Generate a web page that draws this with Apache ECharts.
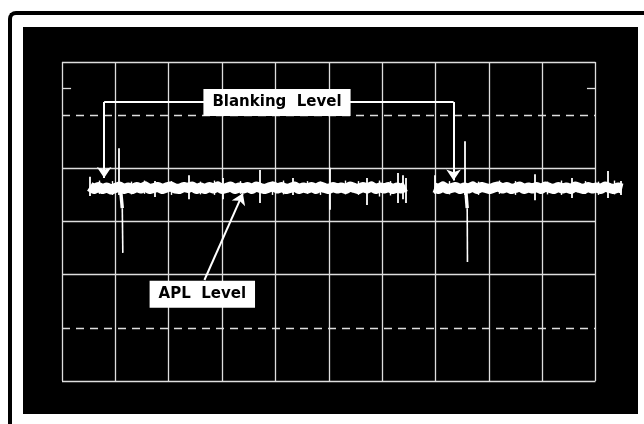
<!DOCTYPE html>
<html><head><meta charset="utf-8">
<script src="https://cdn.jsdelivr.net/npm/echarts@6/dist/echarts.min.js"></script>
<style>
html,body{margin:0;padding:0;background:#fff;overflow:hidden;width:644px;height:424px;}
#frame{position:absolute;left:7.5px;top:11px;width:700px;height:500px;border-left:4.5px solid #000;border-top:4px solid #000;border-top-left-radius:8px;}
#c{position:absolute;left:23px;top:27px;width:615px;height:387px;background:#000;}
</style>
</head><body><div id="frame"></div><div id="c"></div>
<script>
// Horizontal divisions (x) and vertical divisions (y) of the graticule
const xDivisions = [0, 1, 2, 3, 4, 5, 6, 7, 8, 9, 10];
const yDivisions = [0, 1, 2, 3, 4, 5, 6];
const dashedLevels = [1, 5];

// Trace band (x from start, step 0.08 div)
const traceLeftStart = 0.52;
const traceRightStart = 6.98;
const traceStep = 0.08;
const traceLeftY = [
  3.66,3.61,3.65,3.61,3.64,3.60,3.63,3.66,3.61,3.64,
  3.61,3.65,3.62,3.66,3.61,3.63,3.65,3.61,3.64,3.66,
  3.62,3.61,3.65,3.63,3.66,3.61,3.64,3.61,3.65,3.62,
  3.66,3.61,3.63,3.66,3.61,3.64,3.62,3.65,3.61,3.66,
  3.63,3.61,3.64,3.66,3.62,3.65,3.61,3.63,3.66,3.61,
  3.64,3.62,3.65,3.61,3.66,3.63,3.61,3.65,3.62,3.64,
  3.61,3.66,3.63,3.61,3.65,3.62,3.66,3.61,3.64,3.62,
  3.65,3.61,3.64,3.62,3.66
];
const traceRightY = [
  3.64,3.61,3.66,3.61,3.63,3.65,3.61,3.64,3.62,3.66,
  3.61,3.65,3.63,3.61,3.64,3.66,3.62,3.65,3.61,3.63,
  3.66,3.61,3.64,3.62,3.65,3.61,3.66,3.63,3.61,3.65,
  3.62,3.64,3.61,3.66,3.63,3.61,3.65,3.62,3.64,3.61,
  3.66,3.63,3.61,3.64,3.62
];
// Small spikes: [x, top, bottom]
const spikes = [
  [0.52,3.84,3.48],[1.07,4.38,3.50],[1.74,3.76,3.46],[2.37,3.87,3.42],
  [3.02,3.82,3.42],[3.70,3.97,3.35],[4.33,3.82,3.50],[5.02,4.01,3.22],
  [5.71,3.82,3.31],[6.30,3.91,3.35],[6.39,3.87,3.42],[6.45,3.82,3.35],
  [6.99,3.87,3.52],[7.54,4.51,3.50],[8.87,3.89,3.40],[9.55,3.82,3.44],
  [10.23,3.95,3.44],[10.48,3.76,3.50]
];
// Grass on the band edges: [x, top, bottom]
const grass = [
  [0.70,3.77,3.52],[0.95,3.76,3.50],[1.30,3.75,3.51],[1.55,3.77,3.52],[2.05,3.76,3.50],
  [2.60,3.75,3.51],[2.85,3.77,3.50],[3.35,3.76,3.52],[3.95,3.75,3.50],[4.15,3.77,3.51],
  [4.60,3.76,3.52],[4.85,3.75,3.50],[5.30,3.77,3.51],[5.55,3.76,3.50],[5.95,3.77,3.47],
  [6.15,3.76,3.49],[7.25,3.76,3.51],[7.80,3.75,3.50],[8.20,3.77,3.52],[8.50,3.76,3.50],
  [9.10,3.75,3.51],[9.35,3.77,3.50],[9.80,3.76,3.52],[10.05,3.75,3.50],[10.35,3.77,3.51]
];
// Sync pulses: [xStart, yStart, xKnee, yKnee, xEnd, yEnd]
const syncPulses = [
  [1.10,3.58,1.13,3.25,1.14,2.41],
  [7.57,3.58,7.595,3.25,7.60,2.24]
];
// Annotations
const labelTexts = ['Blanking  Level', 'APL  Level'];
const labelPoints = [[4.03,5.24],[2.63,1.63]];
const blankingArrows = [[[0.79,5.25],[0.79,3.82]], [[7.34,5.25],[7.34,3.77]]];
const blankingBar = [[0.79,5.25],[7.34,5.25]];
const aplArrow = [[2.67,1.90],[3.39,3.53]];
const edgeStubs = [[[0,5.5],[0.17,5.5]], [[9.84,5.5],[10,5.5]]];

const W = '#ffffff', G = '#dedede', T = 'rgba(0,0,0,0)';
const chart = echarts.init(document.getElementById('c'));
const leftData = traceLeftY.map((y, i) => [traceLeftStart + i * traceStep, y]);
const rightData = traceRightY.map((y, i) => [traceRightStart + i * traceStep, y]);
const splitColors = yDivisions.map(v => dashedLevels.includes(v) ? T : G);
const L = (extra) => Object.assign({ type: 'lines', coordinateSystem: 'cartesian2d', silent: true, clip: false, animation: false }, extra);

chart.setOption({
  backgroundColor: '#000',
  animation: false,
  grid: { left: 39, top: 35, width: 533.5, height: 319 },
  xAxis: { type: 'value', min: xDivisions[0], max: xDivisions[xDivisions.length-1], interval: 1,
    axisLine: {show:false}, axisTick: {show:false}, axisLabel: {show:false},
    splitLine: { show: true, lineStyle: { color: G, width: 1.3 } } },
  yAxis: { type: 'value', min: yDivisions[0], max: yDivisions[yDivisions.length-1], interval: 1,
    axisLine: {show:false}, axisTick: {show:false}, axisLabel: {show:false},
    splitLine: { show: true, lineStyle: { color: splitColors, width: 1.3 } } },
  series: [
    L({ z: 1, lineStyle: { color: G, width: 1.3, type: [8, 6], opacity: 1 },
      data: dashedLevels.map(v => ({ coords: [[0, v], [10, v]] })) }),
    L({ z: 1, lineStyle: { color: G, width: 1.3, opacity: 1 },
      data: edgeStubs.map(c => ({ coords: c })) }),
    L({ z: 3, polyline: true, lineStyle: { color: W, width: 10, opacity: 1, join: 'round' },
      data: [{ coords: leftData }, { coords: rightData }] }),
    L({ z: 4, lineStyle: { color: W, width: 1.8, opacity: 1 },
      data: spikes.map(s => ({ coords: [[s[0], s[1]], [s[0], s[2]]] })) }),
    L({ z: 4, lineStyle: { color: W, width: 1.4, opacity: 1 },
      data: grass.map(s => ({ coords: [[s[0], s[1]], [s[0], s[2]]] })) }),
    L({ z: 4, lineStyle: { color: W, width: 1.6, opacity: 1 },
      data: syncPulses.flatMap(p => [
        { coords: [[p[0], p[1]], [p[2], p[3]]], lineStyle: { width: 3.4 } },
        { coords: [[p[2], p[3]], [p[4], p[5]]] }
      ]) }),
    L({ z: 5, lineStyle: { color: W, width: 2, opacity: 1 },
      data: [{ coords: blankingBar }] }),
    L({ z: 5, symbol: ['none', 'arrow'], symbolSize: [0, 11],
      lineStyle: { color: W, width: 2, opacity: 1 },
      data: blankingArrows.concat([aplArrow]).map(c => ({ coords: c })) }),
    { type: 'scatter', silent: true, z: 10, symbolSize: 0, clip: false,
      itemStyle: { opacity: 1 },
      data: labelTexts.map((t, i) => ({ name: t, value: labelPoints[i] })),
      label: { show: true, position: 'inside', formatter: '{b}', color: '#000',
        backgroundColor: '#fff', padding: [5, 9, 5, 9], fontSize: 15, fontWeight: 'bold',
        fontFamily: 'DejaVu Sans', lineHeight: 17 } }
  ]
});
</script></body></html>
